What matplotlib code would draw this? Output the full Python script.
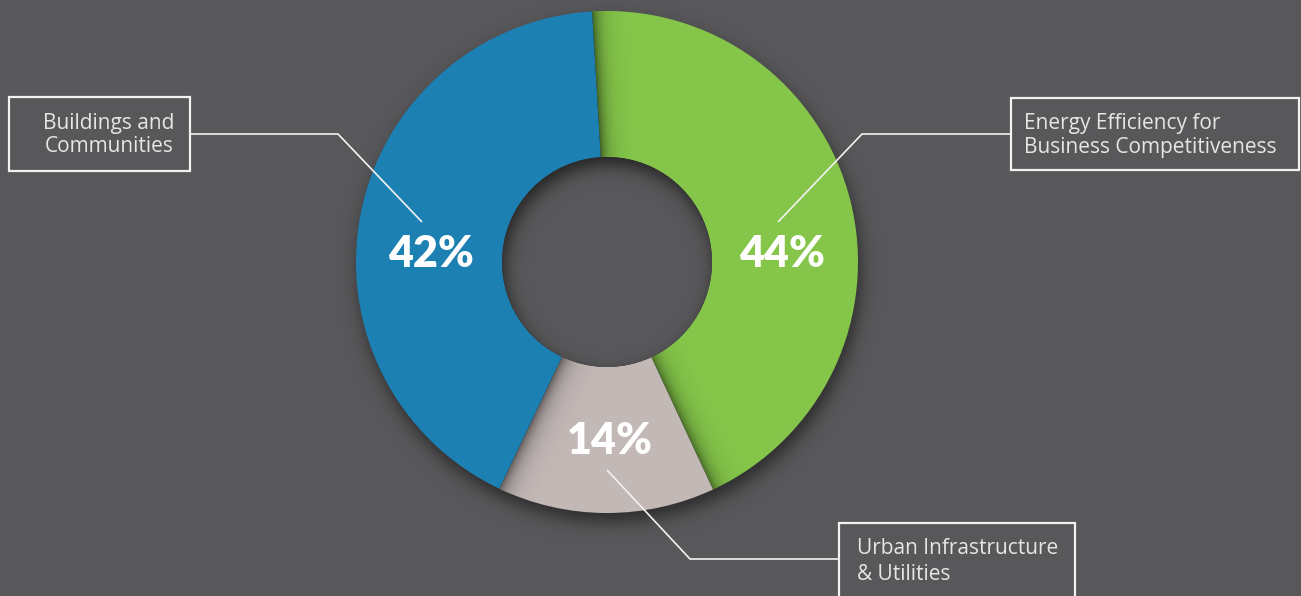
import numpy as np
import matplotlib
matplotlib.use("Agg")
import matplotlib.pyplot as plt
from matplotlib.patches import Rectangle, Circle

# ---- data ----
categories = ["Energy Efficiency for\nBusiness Competitiveness",
              "Urban Infrastructure\n& Utilities",
              "Buildings and\nCommunities"]
shares = [44, 14, 42]
pct_labels = ["44%", "14%", "42%"]
colors = ["#84c54a", "#c2b8b6", "#1c80b3"]

W, H = 1301, 596
BG = "#58585a"
fig = plt.figure(figsize=(W / 100, H / 100), dpi=100, facecolor=BG)
ax = fig.add_axes([0, 0, 1, 1])
ax.set_facecolor(BG)

def py(y):
    return H - y

cx, cy = 607, py(262)
R, r = 251, 105
start = 93.4

rows, cols = np.mgrid[0:H, 0:W]
X = cols + 0.5
Y = H - (rows + 0.5)

def sig(z):
    return 1.0 / (1.0 + np.exp(-z))

def overlay(alpha, zorder, clip=None):
    img = np.zeros((H, W, 4))
    img[..., 3] = np.clip(alpha, 0, 1)
    im = ax.imshow(img, extent=(0, W, 0, H), origin="upper", zorder=zorder,
                   interpolation="bilinear")
    if clip is not None:
        im.set_clip_path(clip)
    return im

# outer drop shadow
d = np.hypot(X - (cx + 3), Y - (cy - 9))
overlay(0.5 * sig((R - d) / 5.0), 1)

wedges, _ = ax.pie(shares, colors=colors, startangle=start, counterclock=False,
                   center=(cx, cy), radius=R,
                   wedgeprops=dict(width=R - r, linewidth=0), frame=True)
for w in wedges:
    w.set_zorder(2)

# shadows cast between slices
b_blue_green = start
b_green_gray = start - 360 * shares[0] / sum(shares)
b_gray_blue = b_green_gray - 360 * shares[1] / sum(shares)
PX, PY = X - cx, Y - cy

def border_alpha(ang, amp, width):
    u = np.array([np.cos(np.radians(ang)), np.sin(np.radians(ang))])
    dist = np.abs(u[0] * PY - u[1] * PX)
    along = u[0] * PX + u[1] * PY
    return np.where(along > 0, amp * np.exp(-dist / width), 0.0)

overlay(border_alpha(b_blue_green, 0.5, 8.0) + border_alpha(b_green_gray, 0.45, 8.0),
        2.5, wedges[0])
overlay(border_alpha(b_gray_blue, 0.5, 9.0), 2.5, wedges[1])

# hole with inset shadow
hole = Circle((cx, cy), r, facecolor=BG, edgecolor="none", zorder=3)
ax.add_patch(hole)
d2 = np.hypot(X - (cx + 3), Y - (cy - 8))
overlay(0.6 * sig((d2 - r) / 5.0), 4, hole)

# percentage labels
pct_pos = [(782, 254), (610, 441), (431, 254)]
for lab, (x, y) in zip(pct_labels, pct_pos):
    ax.text(x, py(y), lab, ha="center", va="center", color="white",
            fontsize=31, fontweight="heavy", family="Lato", zorder=6)

# callout boxes and leader lines
LC = "#f2f2f2"
boxes = [(1011, 98, 1299, 170), (839, 523, 1075, 600), (9, 97, 190, 171)]
leaders = [[(1011, 134), (862, 134), (778, 222)],
           [(839, 559), (690, 559), (607, 470)],
           [(190, 134), (338, 134), (422, 222)]]
text_anchor = [(1024, "left"), (857, "left"), (174, "right")]
text_y = [(123, 147), (549, 574), (123, 147)]

for (x0, y0, x1, y1) in boxes:
    ax.add_patch(Rectangle((x0, py(y1)), x1 - x0, y1 - y0, fill=False,
                           edgecolor=LC, linewidth=1.6, zorder=5, clip_on=False))
for pts in leaders:
    ax.plot([p[0] for p in pts], [py(p[1]) for p in pts], color=LC,
            linewidth=1.2, zorder=5, solid_capstyle="butt")
for cat, (tx, ha), ys in zip(categories, text_anchor, text_y):
    for line, y in zip(cat.split("\n"), ys):
        ax.text(tx, py(y), line, ha=ha, va="center", color="#e6e6e6",
                fontsize=15, fontweight="normal", family="Open Sans", zorder=6)

ax.set_xlim(0, W)
ax.set_ylim(0, H)
ax.set_aspect("auto")
ax.axis("off")
fig.savefig("out.png", dpi=100, facecolor=BG)
